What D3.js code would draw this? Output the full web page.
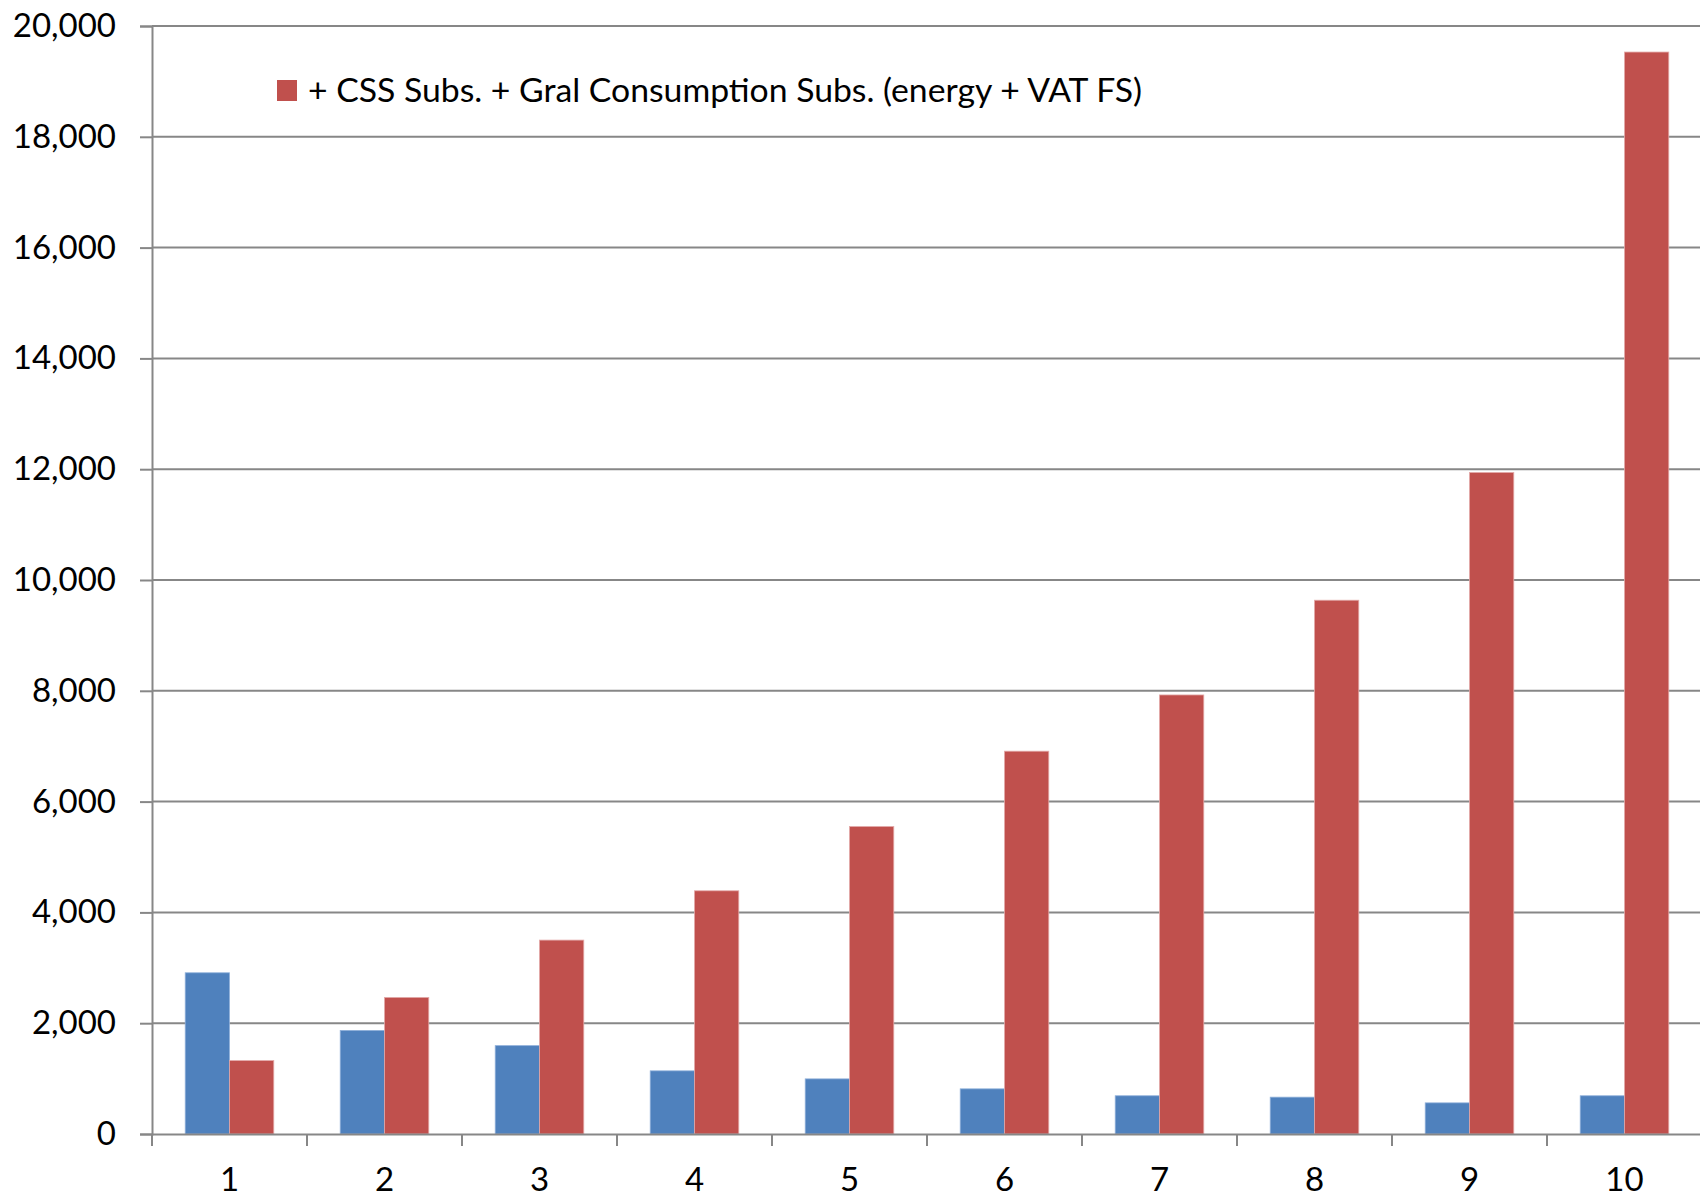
<!DOCTYPE html>
<html>
<head>
<meta charset="utf-8">
<script src="https://cdn.jsdelivr.net/npm/d3@7"></script>
<style>
  html, body { margin: 0; padding: 0; background: #fff; }
  svg { display: block; }
</style>
</head>
<body>
<div id="chart-container"></div>
<script>
// chart data
const categories = ["1", "2", "3", "4", "5", "6", "7", "8", "9", "10"];
const seriesNames = ["base", "+ CSS Subs. + Gral Consumption Subs. (energy + VAT FS)"];
const blueValues = [2910, 1870, 1595, 1140, 995, 815, 690, 665, 562, 690];
const redValues = [1325, 2465, 3500, 4390, 5550, 6910, 7925, 9635, 11940, 19530];
const yTicks = [0, 2000, 4000, 6000, 8000, 10000, 12000, 14000, 16000, 18000, 20000];

const width = 1700, height = 1200;
const margin = { top: 26, right: -2, bottom: 66, left: 152 };
const innerW = width - margin.left - margin.right;
const innerH = height - margin.top - margin.bottom;
const colors = ["#4F81BD", "#C0504D"];
const font = "Lato, 'Open Sans', sans-serif";

const svg = d3.select("#chart-container")
    .append("svg")
    .attr("width", width)
    .attr("height", height);

const g = svg.append("g")
    .attr("transform", `translate(${margin.left},${margin.top})`);

const x = d3.scaleBand().domain(categories).range([0, innerW]).padding(0);
const y = d3.scaleLinear().domain([0, 20000]).range([innerH, 0]);

// excel style gap width of 150%
const barW = x.bandwidth() / 3.5;
const gap = barW * 1.5;
const x1 = d3.scaleBand().domain([0, 1]).range([gap / 2, x.bandwidth() - gap / 2]).padding(0);

// gridlines
g.selectAll(".grid")
    .data(yTicks.filter(d => d > 0))
    .enter().append("line")
    .attr("class", "grid")
    .attr("x1", 0)
    .attr("x2", width - margin.left)
    .attr("y1", d => y(d))
    .attr("y2", d => y(d))
    .attr("stroke", "#878787")
    .attr("stroke-width", 2);

// bars
const rows = categories.map((c, i) => ({ cat: c, vals: [blueValues[i], redValues[i]] }));
const groups = g.selectAll(".cat")
    .data(rows)
    .enter().append("g")
    .attr("transform", d => `translate(${x(d.cat)},0)`);

groups.selectAll("rect")
    .data(d => d.vals.map((v, k) => ({ k, v })))
    .enter().append("rect")
    .attr("x", d => x1(d.k))
    .attr("y", d => y(d.v))
    .attr("width", x1.bandwidth())
    .attr("height", d => innerH - y(d.v))
    .attr("fill", d => colors[d.k])
    .attr("stroke", d => d.k === 0 ? "#8fb0da" : "#e3a9a8")
    .attr("stroke-width", 0.8);

// y axis
const yAxis = g.append("g")
    .call(d3.axisLeft(y).tickValues(yTicks).tickSize(12).tickPadding(24)
        .tickFormat(d3.format(",")));
yAxis.select(".domain").attr("stroke", "#878787").attr("stroke-width", 2);
yAxis.selectAll(".tick line").attr("stroke", "#878787").attr("stroke-width", 2);
yAxis.selectAll("text")
    .attr("font-family", font)
    .attr("font-size", 33)
    .attr("fill", "#000");

// x axis
const xAxis = g.append("g")
    .attr("transform", `translate(0,${innerH})`)
    .call(d3.axisBottom(x).tickSize(0).tickPadding(34));
xAxis.select(".domain").attr("stroke", "#878787").attr("stroke-width", 2);
xAxis.selectAll("text")
    .attr("font-family", font)
    .attr("font-size", 33)
    .attr("fill", "#000");

// category separators
g.selectAll(".sep")
    .data(categories)
    .enter().append("line")
    .attr("x1", d => x(d))
    .attr("x2", d => x(d))
    .attr("y1", innerH)
    .attr("y2", innerH + 12)
    .attr("stroke", "#878787")
    .attr("stroke-width", 2);

// legend (only the red series shows in the original)
const legend = svg.append("g").attr("transform", "translate(277,80)");
legend.append("rect")
    .attr("width", 20)
    .attr("height", 21)
    .attr("fill", colors[1]);
legend.append("text")
    .attr("x", 31)
    .attr("y", 11)
    .attr("dy", "0.35em")
    .attr("font-family", font)
    .attr("font-size", 32)
    .attr("textLength", 834)
    .attr("lengthAdjust", "spacingAndGlyphs")
    .text(seriesNames[1]);
</script>
</body>
</html>
